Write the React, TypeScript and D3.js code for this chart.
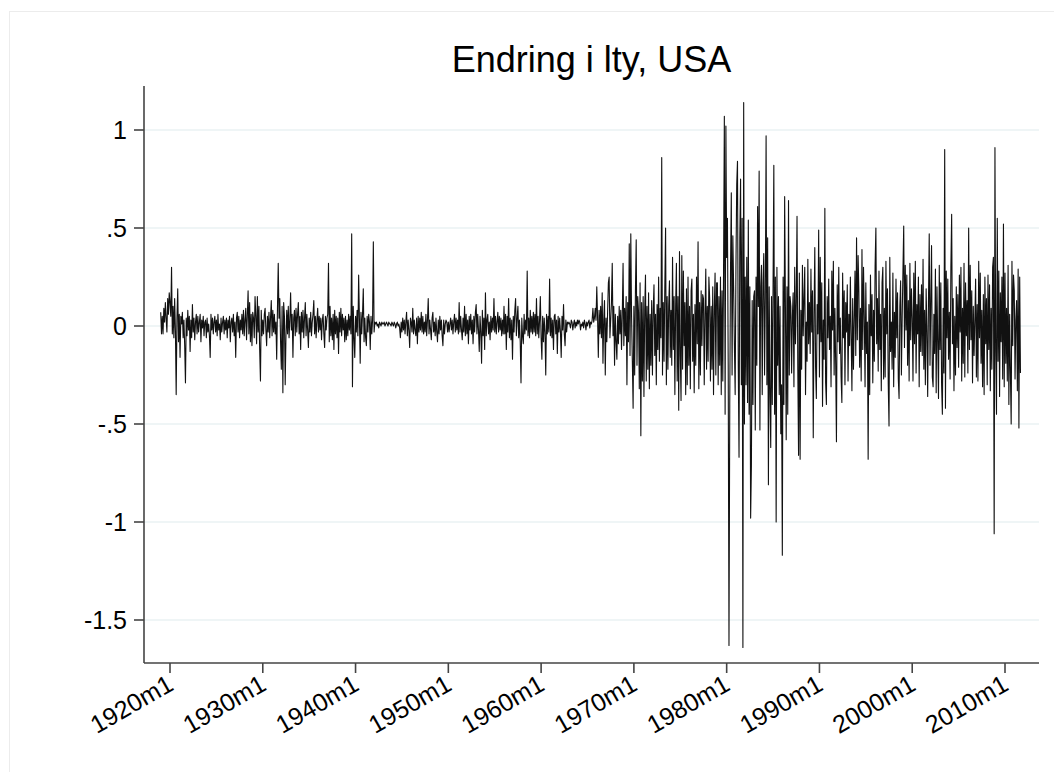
import React from "react";
import * as d3 from "d3";

// monthly change in lty, starting 1919m1
const lty1910s = [
  .07, -.04, .05, -.04, .09, .02, .12, .04, -.03, .14, .06, .17,
];

const lty1920s = [
  .12, .05, .30, -.04, .10, -.06, .14, -.02, -.35, .04, .19, -.08,
  .06, -.16, .05, .01, .07, -.06, .03, -.10, -.29, .04, -.05, .08,
  -.02, .05, -.13, .03, -.06, .11, -.03, .04, -.07, .02, .06, -.04,
  .05, -.03, .02, .06, -.08, .03, -.01, .05, -.05, .02, .03, -.06,
  .04, -.03, .01, -.05, -.16, .06, -.02, .04, -.04, .02, .05, -.03,
  .03, -.05, .06, -.02, .01, -.07, .04, -.03, .02, .05, -.04, .03,
  -.02, .04, -.06, .03, -.01, .05, -.08, .02, .04, -.03, .06, -.05,
  .02, -.16, .04, .07, -.03, .05, -.06, .03, -.02, .06, -.04, .08,
  -.05, .03, .09, -.07, .05, .18, -.04, .12, -.08, .06, -.10, .07,
  .04, -.06, .15, .05, -.09, .15, -.03, .10, -.12, -.28, .08, -.05,
];

const lty1930s = [
  .03, -.04, .06, .09, -.02, -.10, .05, -.03, .07, -.06, .04, .13,
  -.05, .08, -.03, .06, -.04, .02, -.17, .09, .32, .04, .14, -.08,
  -.22, .10, -.34, .12, .05, -.30, -.05, .08, -.04, .10, -.06, .03,
  .17, -.02, .06, -.16, .04, .08, -.05, .09, -.03, .06, .12, -.04,
  .05, -.12, .07, -.03, .08, -.06, .04, .12, -.05, .06, -.02, -.11,
  .04, -.03, .07, -.05, .02, .06, .13, -.04, .05, -.06, .03, .09,
  -.03, .05, -.02, .04, -.07, .03, .06, -.04, -.11, .05, -.02, .04,
  .06, .32, -.08, .10, -.05, .04, -.07, .06, -.12, .08, -.04, .05,
  -.06, .04, -.14, .07, -.03, .09, -.05, .06, -.02, .04, -.08, .05,
  -.07, .03, -.05, .06, -.02, .05, -.04, .47, -.31, .10, -.06, -.16,
];

const lty1940s = [
  .05, -.03, .08, -.05, .26, .04, -.19, .07, -.04, .06, .19, -.08,
  .04, -.06, -.10, .05, -.03, .06, .02, -.12, .05, -.04, .03, .43,
  -.03, .02, .01, .02, .00, .01, -.01, .02, .01, .00, .02, .01,
  .01, .02, .00, .01, .02, .01, .00, .02, .01, .01, .00, .02,
  .01, .00, .02, .01, -.01, .01, .02, .00, .01, -.01, -.06, .02,
  -.03, .04, -.02, .03, -.04, .02, .07, -.05, .03, -.02, -.11, .04,
  .02, -.03, .09, -.04, .03, -.02, -.05, .04, -.09, .05, -.03, .04,
  -.02, .07, -.03, .05, -.04, .02, -.03, .06, -.05, .03, .14, -.04,
  .03, -.02, -.07, .04, .07, -.03, .02, -.05, .04, -.03, -.08, .03,
  -.04, .05, -.02, .03, -.05, -.10, .03, -.04, .01, .03, .02, -.03,
];

const lty1950s = [
  .02, -.03, .01, .04, -.02, .03, -.04, .02, .06, -.03, .04, -.02,
  .03, -.04, .12, -.03, .05, -.02, -.07, .04, -.03, .10, -.05, .06,
  -.04, .03, -.09, .05, -.02, .06, -.04, .03, -.09, .05, -.03, .07,
  .11, -.04, .06, -.02, -.13, .05, -.03, -.19, .08, -.05, .04, -.12,
  .17, -.05, .03, .06, -.04, .02, -.07, .05, -.03, .04, -.02, .14,
  -.03, .05, -.04, .02, .07, -.03, .05, -.02, .04, -.05, .03, -.04,
  .10, -.04, .06, -.12, .05, -.03, .14, -.06, .04, -.07, .03, -.17,
  .05, -.03, .08, .14, -.05, .04, .10, -.06, .03, -.08, -.29, .04,
  -.05, -.09, .06, -.04, .03, -.02, .28, -.05, .04, -.06, .08, -.03,
  .05, -.04, .07, -.03, .06, -.05, .14, -.04, .05, -.06, .03, .15,
];

const lty1960s = [
  -.06, -.17, .05, -.08, .04, -.03, -.25, .06, -.04, .05, -.03, .24,
  -.05, .04, -.06, .03, -.12, .05, .06, -.04, .03, -.14, .05, -.03,
  .04, -.03, -.16, .05, -.02, .11, -.04, -.10, .03, -.03, .02, .01,
  .02, .01, -.01, .03, .02, -.02, .01, .03, -.01, .02, .00, .03,
  .01, .03, .02, -.02, .01, .00, .02, -.01, .03, .01, -.02, .02,
  .00, .02, .03, -.01, .02, .01, .03, .09, .02, .04, .09, .03,
  .20, .05, -.16, .08, -.04, .10, -.06, .17, -.19, .03, .13, -.25,
  .04, -.08, .07, .22, .25, -.06, .03, .12, .32, -.05, .10, -.20,
  .06, -.08, -.17, .05, -.09, .10, -.04, .08, -.12, .06, .32, -.10,
  .09, -.05, .15, -.30, .12, -.08, .42, -.15, .47, .05, -.18, -.42,
];

const lty1970s = [
  .10, -.25, .18, .44, -.20, .15, .07, -.32, .22, -.56, .12, -.28,
  .15, -.36, .08, .26, -.28, .10, -.22, .17, -.32, .06, -.20, .13,
  -.25, .08, .21, -.15, .06, -.30, .11, -.12, .25, -.18, .09, -.06,
  .86, -.25, .12, -.18, .20, .50, -.30, .15, -.22, .10, .23, -.16,
  .08, -.20, .35, -.12, .15, -.35, .10, .32, -.28, .15, -.43, .38,
  -.15, -.38, .36, -.22, .28, -.10, .12, -.35, .19, -.30, .25, -.20,
  .10, -.32, .18, .24, -.18, .06, -.34, .11, -.20, .25, -.09, .43,
  -.32, .12, -.25, .18, -.10, .16, .14, -.30, .06, .29, -.22, .10,
  -.18, .25, .14, -.28, .10, -.22, .20, -.35, .08, .27, -.25, .22,
  .22, -.30, .15, -.20, .25, -.35, .18, -.28, .30, 1.07, -.45, 1.02,
];

const lty1980s = [
  .35, .55, -.20, -1.63, -.40, .30, .68, -.25, .46, .20, -.10, -.35,
  .30, .72, .84, -.20, -.67, .45, .75, -.30, .55, -1.64, 1.14, -.50,
  .25, -.30, .35, -.39, .54, -.45, .20, -.98, -.71, .13, -.40, .15,
  .18, -.53, .25, -.20, .61, .10, .79, -.53, .20, .31, -.35, .22,
  .37, -.25, .15, .97, -.30, .45, -.81, .20, -.35, -.62, .15, -.40,
  .20, .82, -.45, .25, -1.00, .30, -.20, .15, -.35, .10, -.55, -.30,
  -1.17, .25, -.40, .66, .10, -.58, .20, -.45, .64, -.25, .15, .10,
  -.24, .05, .17, -.31, .30, -.09, .12, .56, -.22, -.66, .27, -.68,
  .08, -.22, .31, -.05, .14, .30, -.35, .02, -.18, .34, -.09, .12,
  -.14, .29, -.03, .18, -.57, .06, .40, -.21, -.37, .11, -.04, .49,
];

const lty1990s = [
  -.26, .35, -.08, .22, -.41, .03, -.17, .60, -.29, -.40, .15, -.06,
  .24, -.12, .05, -.31, .28, -.02, .33, -.25, .09, -.19, -.59, .21,
  -.08, .30, -.14, .04, -.26, -.39, .27, -.06, .18, -.30, .12, -.03,
  .21, -.28, .06, -.10, .25, -.04, -.33, .14, -.22, .03, .28, -.15,
  .45, -.07, .36, .18, -.21, .09, -.28, .39, -.12, .30, .05, -.31,
  .22, -.14, .02, -.68, .11, -.35, .26, -.05, .16, -.29, .08, -.18,
  .31, .50, -.09, .14, -.23, .28, -.12, .06, -.33, .22, .30, -.27,
  .09, -.26, .33, -.04, .19, -.30, -.51, .35, -.13, .02, -.22, .27,
  -.31, .07, -.16, .24, -.06, .17, -.27, -.37, .10, .23, -.25, .04,
  .28, .51, -.11, .31, -.02, .26, -.20, .13, -.28, .32, -.07, .19,
];

const lty2000s = [
  .04, -.28, .27, -.09, .33, -.24, .11, -.04, .25, -.31, .16, -.13,
  .21, -.15, .34, -.22, .08, -.30, .19, -.03, -.36, .12, .47, -.20,
  .13, .41, -.26, -.31, .06, -.14, .29, -.34, .20, -.08, -.37, .31,
  -.12, .22, -.30, -.45, .09, -.24, .90, -.42, .28, -.06, .24, -.17,
  .07, -.27, .30, .57, -.09, .14, -.33, .05, -.25, .20, -.11, .16,
  -.21, .26, -.03, .30, -.28, .09, -.19, .32, -.26, .22, -.05, .13,
  -.24, .50, -.12, .31, -.07, .18, -.29, .10, -.15, .03, .24, -.26,
  .11, -.28, .33, -.06, .27, -.19, .08, -.31, .16, -.35, .25, -.09,
  .14, -.30, .26, -.12, .21, -.33, .09, -.22, .30, .35, -1.06, .91,
  -.13, -.45, .55, -.18, .28, -.36, .17, -.08, .25, -.27, .52, -.31,
];

const lty2010s = [
  .27, -.19, .09, -.28, .31, -.40, .06, -.24, -.50, .33, -.10, .26,
  .18, -.27, .03, .13, -.33, .29, -.52, .25, -.24,
];

const series = [
  ...lty1910s, ...lty1920s, ...lty1930s, ...lty1940s, ...lty1950s,
  ...lty1960s, ...lty1970s, ...lty1980s, ...lty1990s, ...lty2000s, ...lty2010s,
];
const firstMonth = -12; // 1919m1, counted in months from 1920m1

const yTicks = [1, 0.5, 0, -0.5, -1, -1.5];
const yTickLabels = ["1", ".5", "0", "-.5", "-1", "-1.5"];
const xTickMonths = [0, 120, 240, 360, 480, 600, 720, 840, 960, 1080];
const xTickLabels = ["1920m1", "1930m1", "1940m1", "1950m1", "1960m1", "1970m1", "1980m1", "1990m1", "2000m1", "2010m1"];

const font = "'Liberation Sans', Arial, Helvetica, sans-serif";

export default function App() {
  const x = d3.scaleLinear().domain([0, 1080]).range([170, 1005]);
  const y = d3.scaleLinear().domain([-1.5, 1]).range([620, 130]);
  const left = 144, right = 1039, top = 86, bottom = 663;

  const line = d3.line<number>()
    .x((d, i) => x(firstMonth + i))
    .y(d => y(d));

  return (
    <svg width={1054} height={772}
      style={{ position: "absolute", left: 0, top: 0, display: "block", background: "#fff" }}>
      <rect x={9.5} y={11.5} width={1100} height={800} fill="#fff" stroke="#ececec" />
      {yTicks.map(t => (
        <line key={"g" + t} x1={left} x2={right} y1={y(t)} y2={y(t)} stroke="#eaf2f3" strokeWidth={1.5} />
      ))}
      <path d={line(series) || ""} fill="none" stroke="#111" strokeWidth={1.1} strokeLinejoin="round" />
      <line x1={left} x2={left} y1={top} y2={bottom} stroke="#444" strokeWidth={1.6} />
      <line x1={left} x2={right} y1={bottom} y2={bottom} stroke="#444" strokeWidth={1.6} />
      {yTicks.map((t, i) => (
        <g key={"y" + t}>
          <line x1={left - 10} x2={left} y1={y(t)} y2={y(t)} stroke="#444" strokeWidth={1.6} />
          <text x={left - 17} y={y(t)} dy="0.36em" textAnchor="end" fontSize={25} fontFamily={font} fill="#000">
            {yTickLabels[i]}
          </text>
        </g>
      ))}
      {xTickMonths.map((m, i) => (
        <g key={"x" + m}>
          <line x1={x(m)} x2={x(m)} y1={bottom} y2={bottom + 10} stroke="#444" strokeWidth={1.6} />
          <text transform={`translate(${x(m) + 5},${bottom + 26}) rotate(-30)`} textAnchor="end"
            fontSize={25} fontFamily={font} fill="#000">
            {xTickLabels[i]}
          </text>
        </g>
      ))}
      <text x={(left + right) / 2} y={72} textAnchor="middle" fontSize={36} fontFamily={font} fill="#000">
        Endring i lty, USA
      </text>
    </svg>
  );
}
